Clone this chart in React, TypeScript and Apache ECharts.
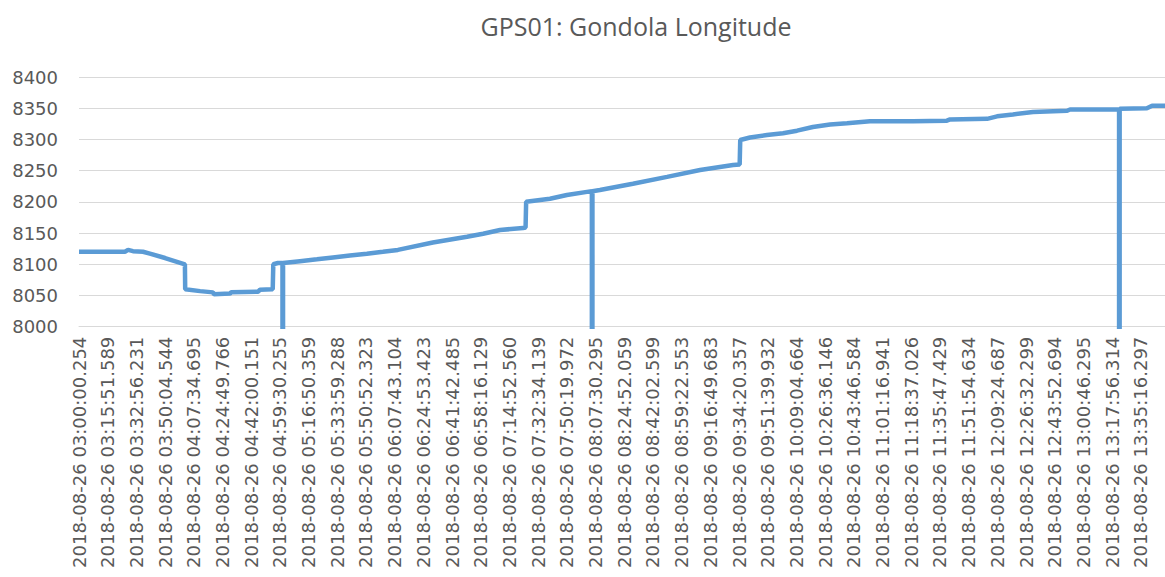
import React, { useEffect, useRef } from "react";
import * as echarts from "echarts";

const titleText = "GPS01: Gondola Longitude";

const tickLabels: string[] = [
  "2018-08-26 03:00:00.254",
  "2018-08-26 03:15:51.589",
  "2018-08-26 03:32:56.231",
  "2018-08-26 03:50:04.544",
  "2018-08-26 04:07:34.695",
  "2018-08-26 04:24:49.766",
  "2018-08-26 04:42:00.151",
  "2018-08-26 04:59:30.255",
  "2018-08-26 05:16:50.359",
  "2018-08-26 05:33:59.288",
  "2018-08-26 05:50:52.323",
  "2018-08-26 06:07:43.104",
  "2018-08-26 06:24:53.423",
  "2018-08-26 06:41:42.485",
  "2018-08-26 06:58:16.129",
  "2018-08-26 07:14:52.560",
  "2018-08-26 07:32:34.139",
  "2018-08-26 07:50:19.972",
  "2018-08-26 08:07:30.295",
  "2018-08-26 08:24:52.059",
  "2018-08-26 08:42:02.599",
  "2018-08-26 08:59:22.553",
  "2018-08-26 09:16:49.683",
  "2018-08-26 09:34:20.357",
  "2018-08-26 09:51:39.932",
  "2018-08-26 10:09:04.664",
  "2018-08-26 10:26:36.146",
  "2018-08-26 10:43:46.584",
  "2018-08-26 11:01:16.941",
  "2018-08-26 11:18:37.026",
  "2018-08-26 11:35:47.429",
  "2018-08-26 11:51:54.634",
  "2018-08-26 12:09:24.687",
  "2018-08-26 12:26:32.299",
  "2018-08-26 12:43:52.694",
  "2018-08-26 13:00:46.295",
  "2018-08-26 13:17:56.314",
  "2018-08-26 13:35:16.297",
];

// position along the category axis, measured in label intervals
const samplePos: number[] = [
  0, 1.6, 1.71, 1.88, 2.23, 2.47, 3.0, 3.69, 3.7, 4.22, 4.67, 4.7, 5.26, 5.3, 6.24, 6.3, 6.75, 6.77,
  6.93, 7.09, 7.1, 7.11, 7.7, 8.29, 8.85, 9.44, 10.03, 10.59, 11.11, 12.33, 13.52, 14.08, 14.67,
  15.47, 15.56, 15.58, 16.41, 17.0, 17.7, 17.87, 17.88, 17.89, 18.15, 19.3, 20.49, 21.64, 22.79,
  23.02, 23.04, 23.38, 23.97, 24.53, 25.02, 25.57, 26.17, 26.76, 27.56, 29.06, 30.24, 30.35, 31.64,
  31.99, 32.54, 33.24, 34.43, 34.53, 36.24, 36.25, 36.26, 37.21, 37.39, 37.84,
];

// longitude values (dropouts read as 0)
const longitude: number[] = [
  8120, 8120, 8123, 8121, 8120, 8117, 8110, 8100, 8060, 8057, 8055, 8052, 8053, 8055, 8056, 8059,
  8060, 8100, 8102, 8102, 0, 8102, 8105, 8108, 8111, 8114, 8117, 8120, 8123, 8135, 8144, 8149, 8155,
  8158, 8159, 8200, 8205, 8211, 8216, 8217, 0, 8217, 8219, 8229, 8240, 8251, 8259, 8260, 8299, 8303,
  8307, 8310, 8314, 8320, 8324, 8326, 8329, 8329, 8330, 8332, 8333, 8337, 8340, 8344, 8346, 8348,
  8348, 0, 8349, 8350, 8354, 8354,
];

const yTicks = { min: 8000, max: 8400, interval: 50 };

export default function App() {
  const ref = useRef<HTMLDivElement>(null);

  useEffect(() => {
    document.body.style.margin = "0";
    if (!ref.current) return;
    const chart = echarts.init(ref.current, undefined, { renderer: "svg" });
    const textColor = "#595959";
    const gridColor = "#d9d9d9";
    const data = samplePos.map((p, i) => [p, longitude[i]]);
    chart.setOption({
      animation: false,
      backgroundColor: "#ffffff",
      graphic: [
        {
          type: "text",
          x: 636,
          y: 26,
          style: {
            text: titleText,
            fill: textColor,
            font: "25px 'Open Sans'",
            textAlign: "center",
            textVerticalAlign: "middle",
          },
        },
      ],
      grid: { left: 79, right: 0, top: 77, bottom: 250.3, containLabel: false },
      xAxis: {
        type: "value",
        min: 0,
        max: 37.84,
        interval: 1,
        splitLine: { show: false },
        axisTick: { show: false },
        axisLine: { show: true, lineStyle: { color: gridColor, width: 1 } },
        axisLabel: {
          rotate: 90,
          margin: 10,
          color: textColor,
          fontFamily: "DejaVu Sans",
          fontSize: 18,
          showMaxLabel: false,
          formatter: (v: number) => {
            const r = Math.round(v);
            if (Math.abs(v - r) > 1e-6) return "";
            return tickLabels[r] ?? "";
          },
        },
      },
      yAxis: {
        type: "value",
        min: yTicks.min,
        max: yTicks.max,
        interval: yTicks.interval,
        axisLine: { show: false },
        axisTick: { show: false },
        splitLine: { show: true, lineStyle: { color: gridColor, width: 1 } },
        axisLabel: {
          margin: 21,
          color: textColor,
          fontFamily: "DejaVu Sans",
          fontSize: 18,
          formatter: (v: number) => String(Math.round(v)),
        },
      },
      series: [
        {
          type: "line",
          data,
          showSymbol: false,
          clip: true,
          lineStyle: { color: "#5B9BD5", width: 4.5 },
          itemStyle: { color: "#5B9BD5" },
        },
      ],
    });
    return () => chart.dispose();
  }, []);

  return <div ref={ref} style={{ width: 1165, height: 577 }} />;
}
